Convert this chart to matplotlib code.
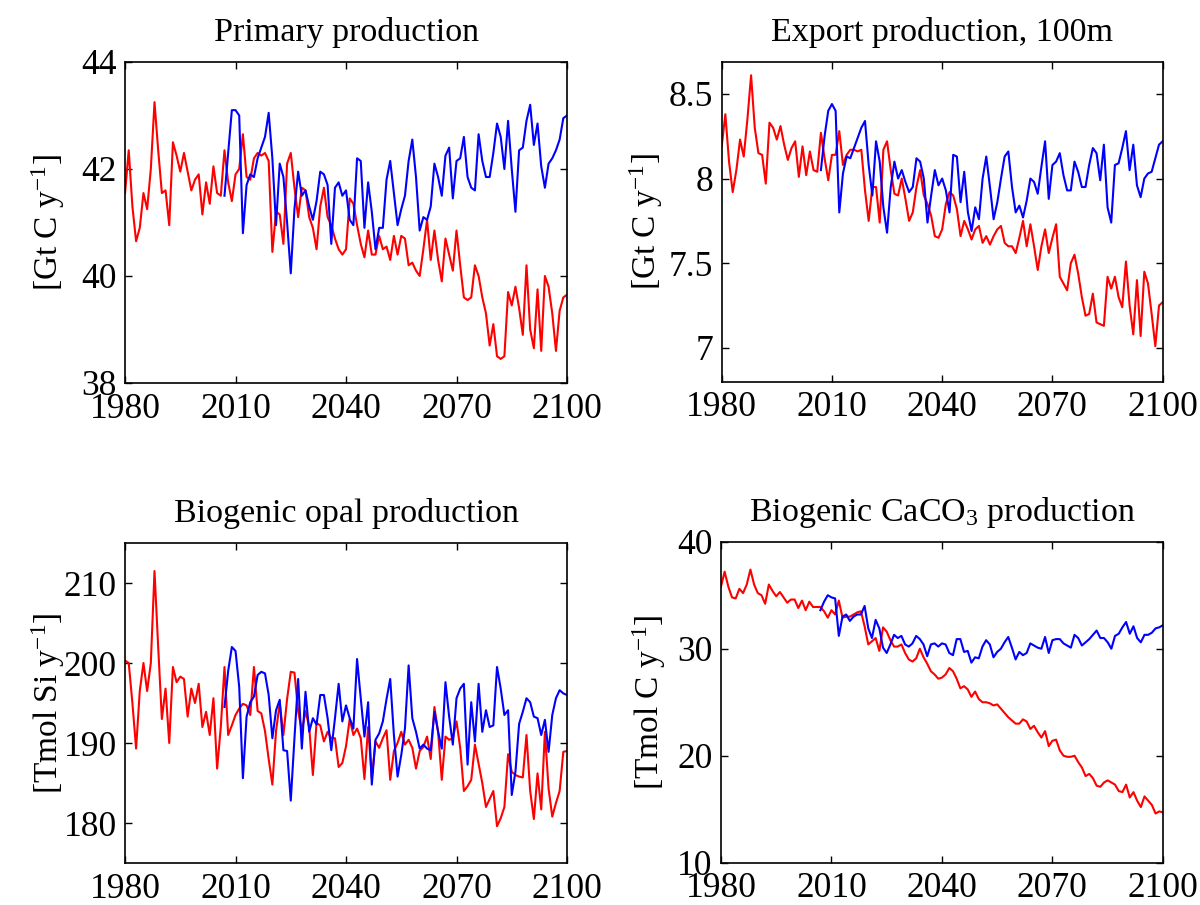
import numpy as np
import matplotlib
matplotlib.use("Agg")
import matplotlib.pyplot as plt

plt.rcParams["font.family"] = ["Liberation Serif", "DejaVu Serif"]
plt.rcParams["mathtext.fontset"] = "custom"
plt.rcParams["mathtext.rm"] = "Liberation Serif"
plt.rcParams["mathtext.it"] = "Liberation Serif:italic"

# annual values, red run 1980-2100, blue run 2007-2100
years_red = np.arange(1980, 2101)
years_blue = np.arange(2007, 2101)

pp_red = [41.55, 42.35, 41.3, 40.65, 40.9, 41.55, 41.25, 42.0, 43.25, 42.35,
          41.55, 41.6, 40.95, 42.5, 42.25, 41.95, 42.3, 41.95, 41.6, 41.8,
          41.9, 41.15, 41.75, 41.35, 42.05, 41.55, 41.5, 42.35, 41.75, 41.4,
          41.9, 42.0, 42.65, 41.85, 41.8, 42.2, 42.3, 42.25, 42.3, 42.15,
          40.45, 41.2, 41.15, 40.6, 42.1, 42.3, 41.65, 41.1, 41.65, 41.6,
          41.1, 40.9, 40.5, 41.3, 41.65, 41.1, 40.95, 40.7, 40.5, 40.4,
          40.5, 41.45, 41.35, 40.95, 40.6, 40.35, 40.85, 40.4, 40.4, 40.75,
          40.5, 40.55, 40.3, 40.75, 40.4, 40.75, 40.7, 40.2, 40.25, 40.1,
          40.0, 40.5, 41.05, 40.3, 40.85, 40.3, 39.9, 40.7, 40.4, 40.1,
          40.85, 40.2, 39.6, 39.55, 39.6, 40.2, 40.0, 39.6, 39.3, 38.7,
          39.1, 38.5, 38.45, 38.5, 39.7, 39.45, 39.8, 39.4, 38.9, 40.2,
          39.0, 38.65, 39.75, 38.6, 40.0, 39.8, 39.3, 38.6, 39.35, 39.6,
          39.65]
pp_blue = [41.5, 42.3, 43.1,
           43.1, 43.0, 40.8, 41.7, 41.9, 41.85, 42.2, 42.4, 42.6, 43.05,
           42.2, 40.95, 42.1, 41.85, 41.0, 40.05, 41.25, 41.95, 41.5, 41.6,
           41.3, 41.05, 41.4, 41.95, 41.9, 41.7, 40.6, 41.65, 41.75, 41.5,
           41.6, 41.05, 40.95, 42.2, 42.15, 40.9, 41.75, 41.2, 40.5, 40.9,
           40.9, 41.8, 42.15, 41.55, 40.95, 41.25, 41.5, 42.15, 42.55, 41.85,
           40.85, 41.1, 41.05, 41.3, 42.1, 41.85, 41.5, 42.25, 42.4, 41.45,
           42.15, 42.2, 42.6, 41.85, 41.65, 41.6, 42.65, 42.15, 41.85, 41.85,
           42.3, 42.85, 42.6, 42.0, 42.9, 42.0, 41.2, 42.35, 42.4, 42.9,
           43.2, 42.45, 42.85, 42.05, 41.65, 42.1, 42.2, 42.35, 42.55, 42.95,
           43.0]

ep_red = [8.19, 8.38, 8.1, 7.92, 8.05, 8.23, 8.13, 8.35, 8.61, 8.3,
          8.15, 8.14, 7.97, 8.33, 8.3, 8.23, 8.31, 8.2, 8.11, 8.18,
          8.22, 8.01, 8.19, 8.02, 8.16, 8.05, 8.04, 8.27, 8.12, 7.99,
          8.14, 8.14, 8.28, 8.08, 8.14, 8.17, 8.17, 8.16, 8.17, 7.93,
          7.75, 7.95, 7.95, 7.74, 8.17, 8.22, 8.05, 7.91, 7.9, 8.0,
          7.88, 7.75, 7.8, 7.95, 8.05, 7.9, 7.85, 7.78, 7.66, 7.65,
          7.7, 7.85, 7.92, 7.9, 7.82, 7.66, 7.75, 7.7, 7.64, 7.7,
          7.72, 7.62, 7.66, 7.61, 7.66, 7.7, 7.72, 7.62, 7.6, 7.6,
          7.56, 7.65, 7.75, 7.6, 7.73, 7.6, 7.46, 7.6, 7.7, 7.56,
          7.65, 7.73, 7.42, 7.38, 7.34, 7.5, 7.55, 7.44, 7.3, 7.19,
          7.2, 7.32, 7.15, 7.14, 7.13, 7.42, 7.35, 7.42, 7.3, 7.24,
          7.51, 7.25, 7.08, 7.4, 7.07, 7.45, 7.38, 7.2, 7.01, 7.25,
          7.27]
ep_blue = [8.05, 8.25, 8.4,
           8.44, 8.4, 7.8, 8.03, 8.13, 8.12, 8.18, 8.24, 8.3, 8.34,
           8.08, 7.9, 8.22, 8.1, 7.83, 7.68, 7.95, 8.1, 8.0, 8.05,
           7.98, 7.92, 7.95, 8.12, 8.1, 8.0, 7.74, 7.9, 8.05, 7.96,
           8.0, 7.93, 7.8, 8.14, 8.13, 7.86, 8.04, 7.8, 7.69, 7.83,
           7.76, 8.0, 8.13, 7.95, 7.76, 7.86, 8.0, 8.13, 8.16, 7.95,
           7.8, 7.84, 7.77, 7.87, 8.0, 7.98, 7.91, 8.07, 8.22, 7.88,
           8.08, 8.1, 8.15, 8.02, 7.93, 7.93, 8.1, 8.04, 7.95, 7.95,
           8.08, 8.18, 8.15, 7.99, 8.2, 7.83, 7.74, 8.08, 8.09, 8.18,
           8.28, 8.05, 8.2, 7.96, 7.89, 8.0, 8.03, 8.04, 8.12, 8.2,
           8.22]

opal_red = [200.3, 200.0, 195.0, 189.3, 196.5, 200.0, 196.5, 200.0, 211.5, 202.0,
            193.0, 196.8, 190.0, 199.5, 197.6, 198.3, 198.0, 193.3, 196.8, 195.0,
            197.4, 192.0, 193.9, 191.0, 195.6, 186.8, 192.0, 199.5, 191.0, 192.2,
            193.5, 194.3, 194.9, 194.7, 193.5, 199.5, 194.0, 193.7, 191.5, 188.0,
            184.8, 191.5, 195.0, 191.0, 195.5, 198.9, 198.8, 194.0, 191.5, 194.0,
            192.0, 186.0, 192.5, 192.2, 190.2, 191.4, 190.6, 190.6, 187.0, 187.5,
            189.6, 193.0, 191.0, 191.8, 190.6, 185.5, 192.0, 185.6, 190.2, 189.4,
            190.6, 191.6, 185.4, 189.0, 190.0, 191.4, 189.8, 190.4, 189.4, 186.8,
            189.0, 189.5, 190.8, 188.0, 194.5, 191.4, 185.4, 190.8, 190.4, 190.6,
            192.7, 189.4, 184.0, 184.6, 185.4, 189.8, 187.4, 185.0, 182.0, 183.0,
            184.0, 179.6, 180.6, 182.0, 188.6, 186.4, 186.0, 185.8, 185.7, 191.0,
            184.0, 180.5, 186.2, 181.7, 191.4, 184.3, 180.8, 182.5, 184.0, 188.9,
            189.0]
opal_blue = [194.5, 199.0, 202.0,
             201.5, 197.0, 185.6, 193.3, 195.1, 195.8, 198.5, 198.9, 198.7, 196.0,
             190.6, 194.1, 195.4, 189.1, 189.0, 182.8, 190.6, 198.0, 189.3, 196.4,
             191.4, 193.1, 192.3, 196.0, 196.0, 193.1, 189.1, 193.1, 197.4, 192.7,
             194.7, 193.1, 191.8, 200.5, 195.6, 190.8, 195.1, 184.8, 190.4, 191.2,
             192.7, 195.5, 198.0, 191.0, 185.8, 188.5, 191.8, 199.7, 193.1, 191.4,
             189.3, 189.8, 189.3, 189.1, 193.9, 191.4, 189.3, 197.6, 193.3, 189.8,
             195.6, 196.8, 197.4, 187.3, 195.1, 190.2, 197.4, 191.4, 194.1, 192.0,
             192.2, 199.5, 196.8, 193.5, 194.1, 183.5, 186.4, 192.4, 193.9, 195.6,
             195.1, 193.3, 193.1, 191.0, 192.9, 188.9, 193.5, 195.6, 196.6, 196.2,
             196.0]

caco3_red = [35.8, 37.2, 35.8, 34.8, 34.7, 35.6, 35.2, 36.0, 37.4, 36.0,
             35.2, 35.0, 34.2, 36.0, 35.4, 34.9, 35.3, 34.8, 34.3, 34.6,
             34.6, 33.8, 34.5, 33.6, 34.4, 33.9, 33.9, 33.9, 33.5, 32.9,
             33.6, 33.2, 34.5, 32.9, 33.0, 33.0, 33.2, 33.4, 33.5, 32.1,
             30.4, 30.7, 31.0, 29.8, 32.0, 31.6, 30.8, 30.2, 30.2, 30.4,
             29.6, 29.0, 28.8, 29.1, 30.0, 29.2, 28.6, 27.9, 27.6, 27.2,
             27.3, 27.6, 28.2, 27.9, 27.2, 26.3, 26.5, 26.2, 25.5, 26.0,
             25.3, 25.0, 25.0, 24.9, 24.7, 24.8, 24.4, 24.0, 23.6, 23.3,
             23.0, 23.0, 23.4, 23.2, 22.5, 22.8, 22.2, 21.7, 22.3, 20.9,
             21.4, 21.5, 20.5, 20.0, 19.9, 19.9, 20.0, 19.4, 18.9, 18.1,
             18.3, 17.9, 17.2, 17.1, 17.5, 17.7, 17.5, 17.3, 16.7, 16.6,
             17.3, 16.1, 16.6, 15.8, 15.2, 16.2, 15.8, 15.4, 14.6, 14.8,
             14.7]
caco3_blue = [33.6, 34.4, 35.0,
              34.8, 34.7, 31.2, 33.0, 33.2, 32.6, 33.0, 33.2, 33.2, 34.0,
              31.9, 31.0, 32.7, 31.9, 30.1, 29.6, 30.4, 31.3, 31.0, 31.2,
              30.4, 30.2, 30.5, 31.2, 30.9, 30.4, 29.3, 30.4, 30.5, 30.2,
              30.5, 30.4, 29.6, 29.4, 30.9, 30.9, 29.7, 29.8, 28.7, 29.2,
              29.1, 30.2, 30.8, 30.4, 29.2, 29.7, 30.0, 30.6, 31.1, 30.1,
              29.0, 29.7, 29.4, 29.6, 30.5, 30.3, 30.1, 30.0, 31.1, 29.6,
              30.8, 30.9, 30.9, 30.5, 30.3, 30.1, 31.3, 31.0, 30.3, 30.6,
              30.9, 31.3, 31.7, 31.0, 31.0, 30.6, 30.0, 31.2, 31.4, 32.0,
              32.5, 31.4, 32.1, 31.0, 30.6, 31.3, 31.3, 31.5, 31.9, 32.0,
              32.2]

titles = ["Primary production", "Export production, 100m",
          "Biogenic opal production", "Biogenic CaCO$_3$ production"]
ylabels = ["[Gt C y$^{-1}$]", "[Gt C y$^{-1}$]",
           "[Tmol Si y$^{-1}$]", "[Tmol C y$^{-1}$]"]
yticks = [[38, 40, 42, 44], [7, 7.5, 8, 8.5], [180, 190, 200, 210], [10, 20, 30, 40]]
yticklabels = [["38", "40", "42", "44"], ["7", "7.5", "8", "8.5"],
               ["180", "190", "200", "210"], ["10", "20", "30", "40"]]
ylims = [(38, 44), (6.8, 8.69), (175, 215), (10, 40)]
xticks = [1980, 2010, 2040, 2070, 2100]

fig = plt.figure(figsize=(12, 9.05), dpi=100)
rects = [[0.1042, 0.5768, 0.3683, 0.3547],
         [0.6014, 0.5782, 0.3675, 0.3536],
         [0.1042, 0.0464, 0.3683, 0.3536],
         [0.6008, 0.0467, 0.3683, 0.3547]]
label_x = [-0.131, -0.129, -0.131, -0.12]
series = [(pp_red, pp_blue), (ep_red, ep_blue),
          (opal_red, opal_blue), (caco3_red, caco3_blue)]

for i, (red, blue) in enumerate(series):
    ax = fig.add_axes(rects[i])
    ax.plot(years_red, red, color="#ff0000", lw=1.5)
    ax.plot(years_blue, blue, color="#0000ff", lw=1.5)
    ax.set_xlim(1980, 2100)
    ax.set_ylim(*ylims[i])
    ax.set_xticks(xticks)
    ax.set_xticklabels([str(x) for x in xticks])
    ax.set_yticks(yticks[i])
    ax.set_yticklabels(yticklabels[i])
    ax.tick_params(direction="in", top=True, right=True, length=5, width=1,
                   labelsize=25.5, pad=6)
    ax.tick_params(axis="x", pad=7)
    for s in ax.spines.values():
        s.set_linewidth(1.2)
    ax.set_title(titles[i], fontsize=24.5, pad=15)
    ax.set_ylabel(ylabels[i], fontsize=24)
    ax.yaxis.set_label_coords(label_x[i], 0.5)

fig.savefig("out.png", dpi=100)
